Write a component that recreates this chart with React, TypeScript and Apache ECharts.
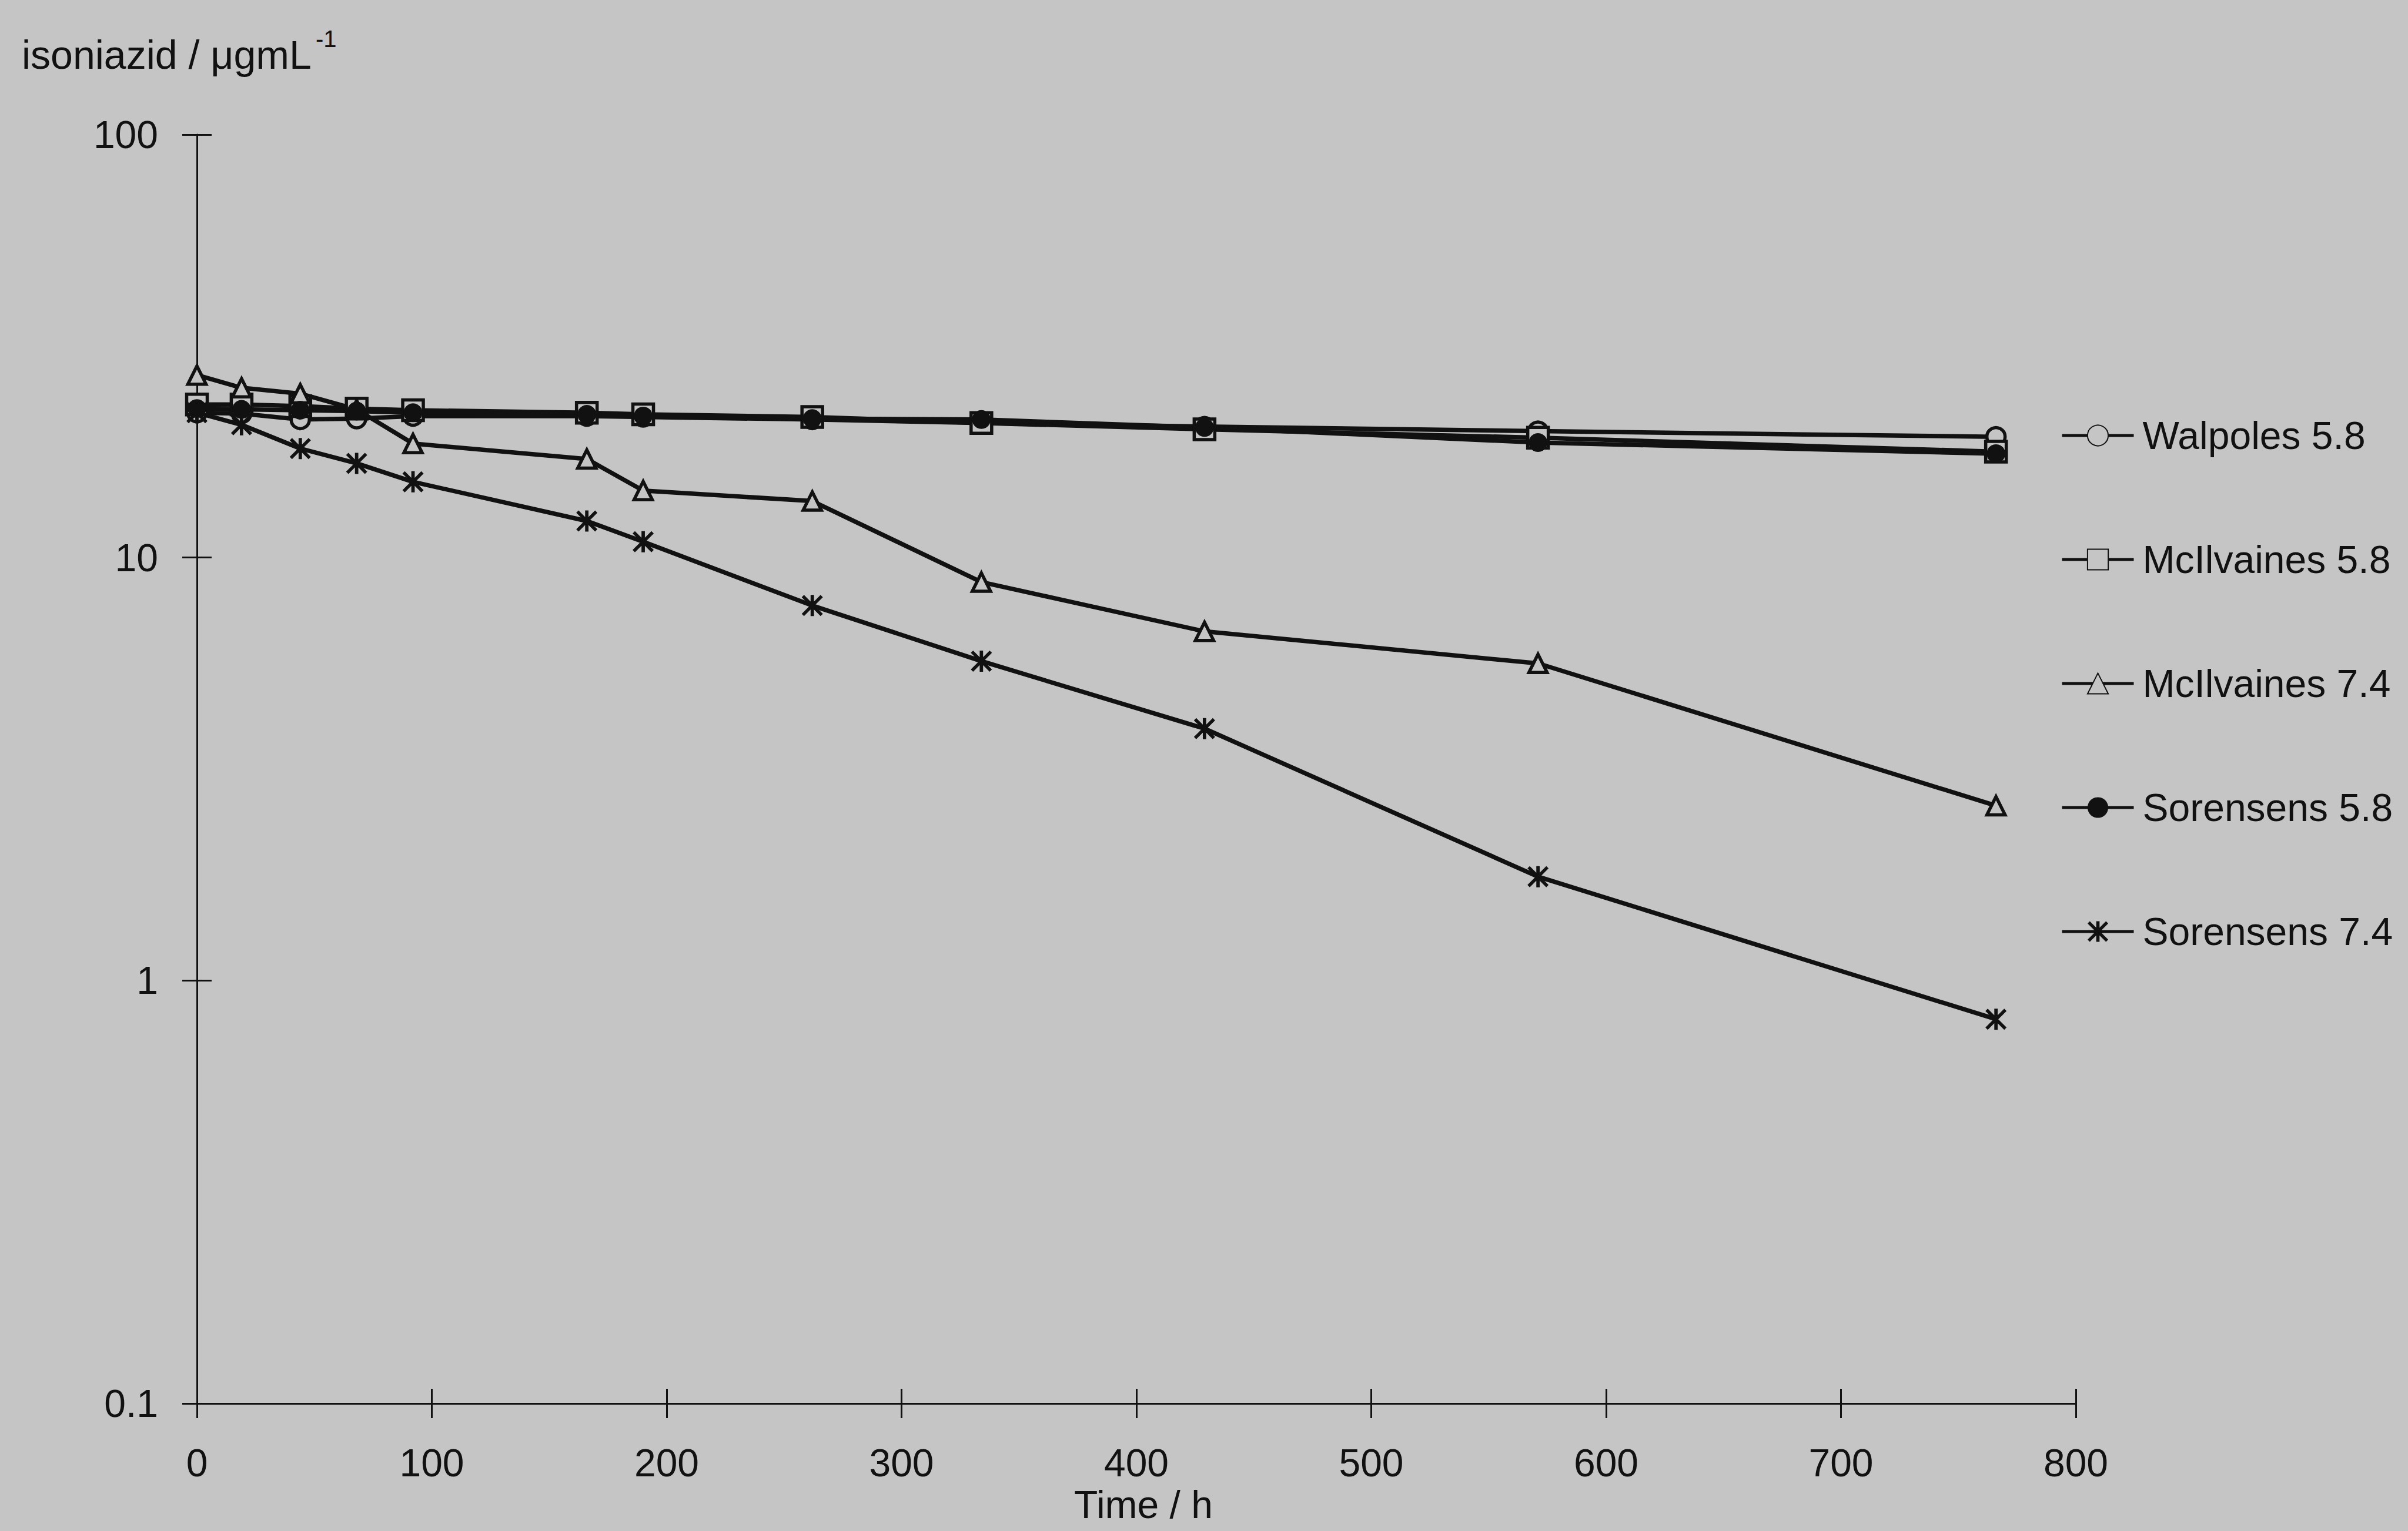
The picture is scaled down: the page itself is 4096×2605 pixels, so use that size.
import React, { useEffect, useRef } from "react";
import * as echarts from "echarts";

// ---- data ----
const times = [0, 19, 44, 68, 92, 166, 190, 262, 334, 429, 571, 766];

const walpoles58 = [22.0, 21.9, 21.2, 21.3, 21.6, 21.6, 21.5, 21.2, 20.8, 20.4, 19.9, 19.3];
const mcilvaines58 = [23.0, 23.0, 22.8, 22.5, 22.3, 22.0, 21.8, 21.5, 20.8, 20.1, 19.2, 17.8];
const mcilvaines74 = [27.0, 25.2, 24.4, 22.4, 18.6, 17.1, 14.4, 13.6, 8.75, 6.69, 5.62, 2.59];
const sorensens58 = [22.5, 22.4, 22.3, 22.2, 22.0, 21.8, 21.6, 21.3, 21.2, 20.3, 18.7, 17.6];
const sorensens74 = [22.0, 20.6, 18.1, 16.7, 15.1, 12.2, 10.9, 7.7, 5.69, 3.94, 1.76, 0.81];

const seriesNames = ["Walpoles 5.8", "McIlvaines 5.8", "McIlvaines 7.4", "Sorensens 5.8", "Sorensens 7.4"];

const yTickValues = [0.1, 1, 10, 100];
const yTickLabels = ["0.1", "1", "10", "100"];

const yTitle = "isoniazid / \u03bcgmL";
const yTitleSup = "-1";
const xTitle = "Time / h";

// ---- styles ----
const INK = "#111111";
const BG = "#c5c5c5";
const FONT = "'Liberation Sans', Arial, Helvetica, sans-serif";

const asterisk =
  "path://M42 0L58 0L58 100L42 100Z M11 0L100 89L89 100L0 11Z M89 0L100 11L11 100L0 89Z";

function makeSeries(name: string, vals: number[], symbol: string, size: number, filled: boolean) {
  return {
    name,
    type: "line",
    data: times.map((t, i) => [t, vals[i]]),
    symbol,
    symbolSize: size,
    showSymbol: true,
    lineStyle: { color: INK, width: 7.5 },
    itemStyle: filled
      ? { color: INK, borderWidth: 0 }
      : { color: BG, borderColor: INK, borderWidth: 5.5 },
    emphasis: { disabled: true },
  };
}

function fmtY(v: number) {
  let best = 0;
  for (let i = 0; i < yTickValues.length; i++) {
    if (Math.abs(Math.log10(v) - Math.log10(yTickValues[i])) < Math.abs(Math.log10(v) - Math.log10(yTickValues[best]))) best = i;
  }
  return yTickLabels[best];
}

const axisLineStyle = { color: INK, width: 3 };
const labelStyle = { fontSize: 66, color: INK, fontFamily: FONT };

const option: any = {
  animation: false,
  backgroundColor: BG,
  grid: { left: 335, right: 565, top: 229, bottom: 217, containLabel: false },
  xAxis: [
    {
      type: "value",
      min: 0,
      max: 800,
      interval: 100,
      axisLine: { show: true, onZero: false, lineStyle: axisLineStyle },
      axisTick: { show: true, length: 25, lineStyle: axisLineStyle },
      axisLabel: { ...labelStyle, margin: 68 },
      splitLine: { show: false },
    },
    {
      type: "value",
      min: 0,
      max: 800,
      interval: 100,
      position: "bottom",
      axisLine: { show: false },
      axisTick: { show: true, inside: true, length: 25, lineStyle: axisLineStyle },
      axisLabel: { show: false },
      splitLine: { show: false },
    },
  ],
  yAxis: [
    {
      type: "log",
      logBase: 10,
      min: 0.1,
      max: 100,
      splitNumber: 3,
      axisLine: { show: true, onZero: false, lineStyle: axisLineStyle },
      axisTick: { show: true, length: 25, lineStyle: axisLineStyle },
      axisLabel: { ...labelStyle, margin: 66, formatter: fmtY },
      splitLine: { show: false },
    },
    {
      type: "log",
      logBase: 10,
      min: 0.1,
      max: 100,
      splitNumber: 3,
      position: "left",
      axisLine: { show: false },
      axisTick: { show: true, inside: true, length: 25, lineStyle: axisLineStyle },
      axisLabel: { show: false },
      splitLine: { show: false },
    },
  ],
  legend: {
    orient: "vertical",
    left: 3500,
    top: 703,
    itemWidth: 122,
    itemHeight: 44,
    itemGap: 145,
    data: seriesNames,
    lineStyle: { width: 5 },
    textStyle: { fontSize: 66, color: INK, fontFamily: FONT, lineHeight: 44, padding: [0, 0, 0, 10] },
    selectedMode: false,
  },
  graphic: [
    {
      type: "text",
      x: 37,
      y: 93,
      style: {
        text: yTitle,
        fill: INK,
        fontSize: 68,
        fontFamily: FONT,
        textAlign: "left",
        align: "left",
        textVerticalAlign: "middle",
        verticalAlign: "middle",
      },
    },
    {
      type: "text",
      x: 537,
      y: 66,
      style: {
        text: yTitleSup,
        fill: INK,
        fontSize: 40,
        fontFamily: FONT,
        textAlign: "left",
        align: "left",
        textVerticalAlign: "middle",
        verticalAlign: "middle",
      },
    },
    {
      type: "text",
      x: 1945,
      y: 2560,
      style: {
        text: xTitle,
        fill: INK,
        fontSize: 66,
        fontFamily: FONT,
        textAlign: "center",
        align: "center",
        textVerticalAlign: "middle",
        verticalAlign: "middle",
      },
    },
  ],
  series: [
    makeSeries(seriesNames[0], walpoles58, "circle", 31, false),
    makeSeries(seriesNames[1], mcilvaines58, "rect", 35, false),
    makeSeries(seriesNames[2], mcilvaines74, "triangle", 31, false),
    makeSeries(seriesNames[3], sorensens58, "circle", 32, true),
    makeSeries(seriesNames[4], sorensens74, asterisk, 36, true),
  ],
};

export default function App() {
  const ref = useRef<HTMLDivElement>(null);
  useEffect(() => {
    document.body.style.margin = "0";
    document.body.style.background = BG;
    const chart = echarts.init(ref.current as HTMLDivElement, null, { renderer: "svg", width: 4096, height: 2605 });
    chart.setOption(option);
    return () => chart.dispose();
  }, []);
  return <div ref={ref} style={{ position: "fixed", left: 0, top: 0, width: 4096, height: 2605 }} />;
}
